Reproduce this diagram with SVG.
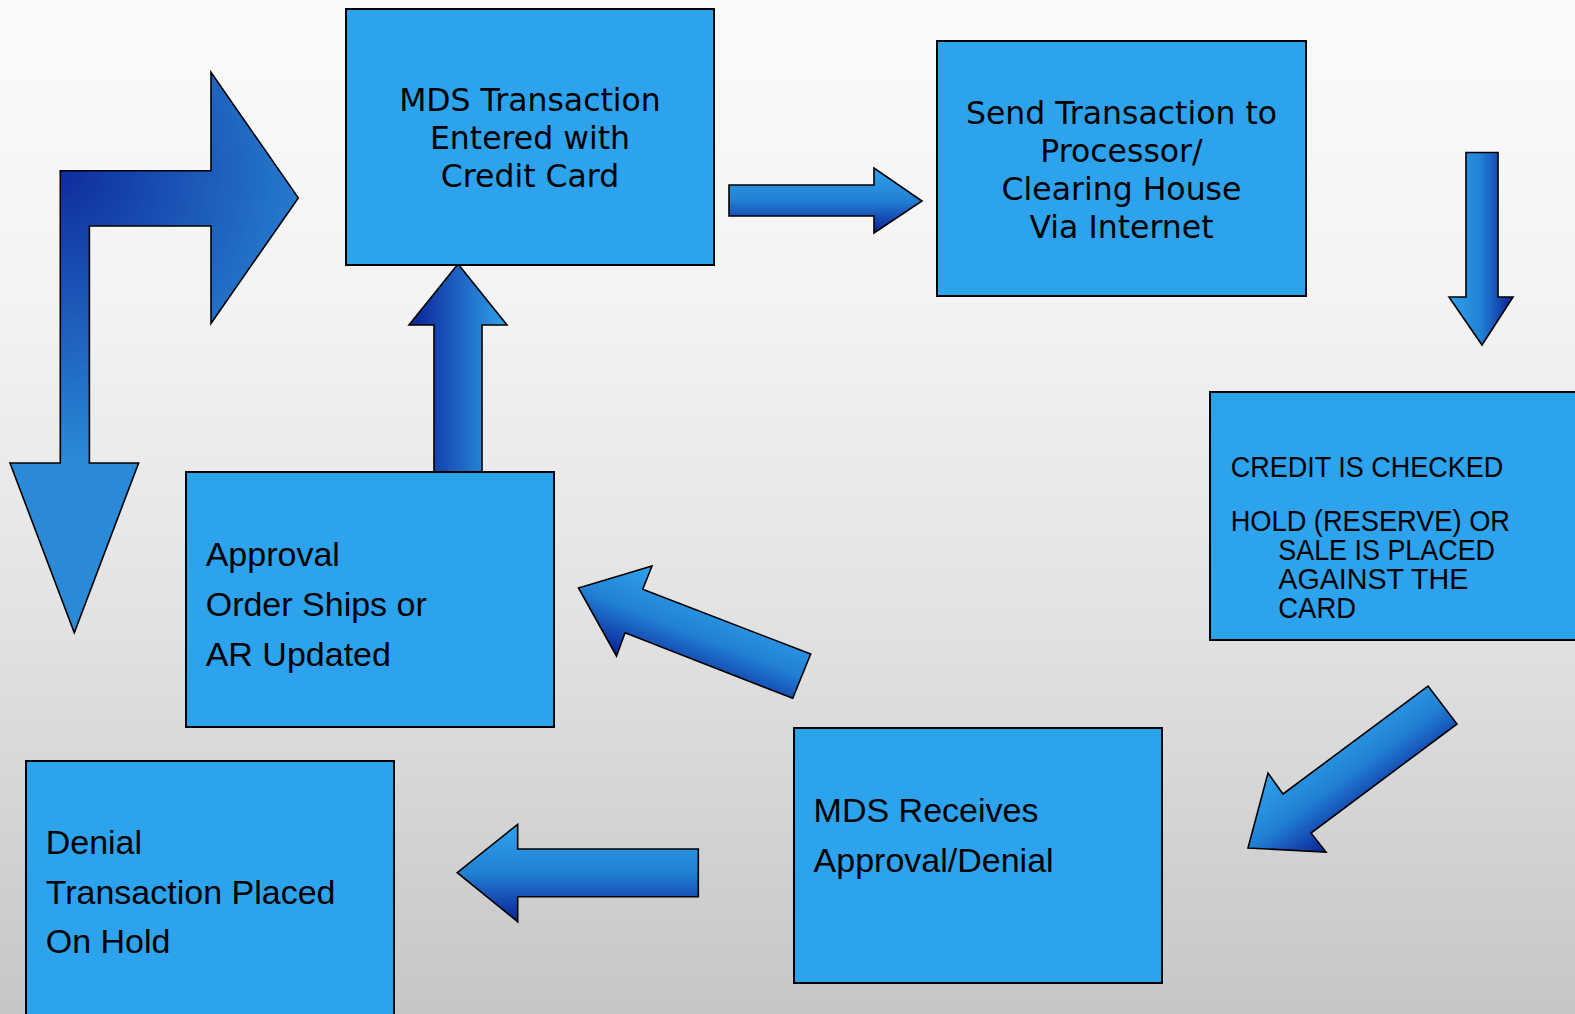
<svg xmlns="http://www.w3.org/2000/svg" width="1575" height="1014" viewBox="0 0 1575 1014">
  <defs>
    <linearGradient id="bg" x1="0" y1="0" x2="0" y2="1">
      <stop offset="0" stop-color="#fbfbfb"/>
      <stop offset="0.3" stop-color="#f3f3f3"/>
      <stop offset="0.6" stop-color="#e3e3e3"/>
      <stop offset="1" stop-color="#c6c6c6"/>
    </linearGradient>
    <radialGradient id="gBent" gradientUnits="userSpaceOnUse" cx="60" cy="171" r="290">
      <stop offset="0" stop-color="#0f2c9c"/>
      <stop offset="1" stop-color="#2a8ad8"/>
    </radialGradient>
    <linearGradient id="gUp" gradientUnits="userSpaceOnUse" x1="409" y1="0" x2="507" y2="0">
      <stop offset="0" stop-color="#0a2196"/>
      <stop offset="1" stop-color="#2fa3ec"/>
    </linearGradient>
    <linearGradient id="gRight" gradientUnits="userSpaceOnUse" x1="0" y1="168" x2="0" y2="233">
      <stop offset="0" stop-color="#2fa3ec"/>
      <stop offset="0.5" stop-color="#2180d4"/>
      <stop offset="1" stop-color="#0a2196"/>
    </linearGradient>
    <linearGradient id="gDown" gradientUnits="userSpaceOnUse" x1="1449" y1="0" x2="1513" y2="0">
      <stop offset="0" stop-color="#2fa3ec"/>
      <stop offset="0.5" stop-color="#2180d4"/>
      <stop offset="1" stop-color="#0a2196"/>
    </linearGradient>
    <linearGradient id="gDiag1" gradientUnits="userSpaceOnUse" x1="1268" y1="773" x2="1326" y2="852">
      <stop offset="0" stop-color="#2fa3ec"/>
      <stop offset="0.5" stop-color="#2180d4"/>
      <stop offset="1" stop-color="#0a2196"/>
    </linearGradient>
    <linearGradient id="gDiag2" gradientUnits="userSpaceOnUse" x1="652" y1="566" x2="617" y2="656">
      <stop offset="0" stop-color="#2fa3ec"/>
      <stop offset="0.5" stop-color="#2180d4"/>
      <stop offset="1" stop-color="#0a2196"/>
    </linearGradient>
    <linearGradient id="gLeft" gradientUnits="userSpaceOnUse" x1="0" y1="824" x2="0" y2="922">
      <stop offset="0" stop-color="#2fa3ec"/>
      <stop offset="0.5" stop-color="#2180d4"/>
      <stop offset="1" stop-color="#0a2196"/>
    </linearGradient>
    <style>
      .box { fill: #2ea3ed; stroke: #000; stroke-width: 2; }
      .arr { stroke: #000; stroke-width: 1.6; stroke-linejoin: miter; }
      .dv { font-family: "DejaVu Sans", Verdana, sans-serif; font-size: 31.5px; fill: #000; text-anchor: middle; }
      .ar { font-family: "Liberation Sans", Arial, sans-serif; font-size: 34px; fill: #000; }
      .fu { font-family: "Liberation Sans", Arial, sans-serif; font-size: 30px; fill: #000; }
    </style>
  </defs>

  <rect x="0" y="0" width="1575" height="1014" fill="url(#bg)"/>

  <g id="connectors">
    <polygon class="arr" fill="url(#gBent)" points="60.3,170.8 211,170.8 211,72.3 298.3,197.9 211,323.4 211,226 89.4,226 89.4,463 138.6,463 74.3,632.8 10,463 60.3,463"/>
    <polygon class="arr" fill="url(#gUp)" points="458,264 507,325 482,325 482,473 434,473 434,325 409,325"/>
    <polygon class="arr" fill="url(#gRight)" points="729,185 874,185 874,168 922,201 874,233 874,216 729,216"/>
    <polygon class="arr" fill="url(#gDown)" points="1466,152.5 1498,152.5 1498,297 1513,297 1482,345 1449,297 1466,297"/>
    <polygon class="arr" fill="url(#gDiag1)" points="1428,686 1457,724 1311,833 1326,852 1248,848 1268,773 1283,794"/>
    <polygon class="arr" fill="url(#gDiag2)" points="578.5,588 652,566 642.7,589.3 810.7,654 792.7,698.3 625,632.7 616.5,656"/>
    <polygon class="arr" fill="url(#gLeft)" points="457.3,872.7 517.7,824.3 517.7,849 698.3,849 698.3,896.7 517.7,896.7 517.7,921.7"/>
  </g>

  <g id="node-entered">
    <rect class="box" x="346" y="9" width="368" height="256"/>
    <text class="dv" x="530" y="110.7">MDS Transaction</text>
    <text class="dv" x="530" y="149">Entered with</text>
    <text class="dv" x="530" y="187">Credit Card</text>
  </g>

  <g id="node-send">
    <rect class="box" x="937" y="41" width="369" height="255"/>
    <text class="dv" x="1121.5" y="124">Send Transaction to</text>
    <text class="dv" x="1121.5" y="162">Processor/</text>
    <text class="dv" x="1121.5" y="200">Clearing House</text>
    <text class="dv" x="1121.5" y="238.3">Via Internet</text>
  </g>

  <g id="node-credit">
    <rect class="box" x="1210" y="392" width="368" height="248"/>
    <text class="fu" x="1230.7" y="477" textLength="272.6" lengthAdjust="spacingAndGlyphs">CREDIT IS CHECKED</text>
    <text class="fu" x="1230.7" y="531" textLength="279.3" lengthAdjust="spacingAndGlyphs">HOLD (RESERVE) OR</text>
    <text class="fu" x="1278.3" y="559.5" textLength="216.7" lengthAdjust="spacingAndGlyphs">SALE IS PLACED</text>
    <text class="fu" x="1278.3" y="589" textLength="190" lengthAdjust="spacingAndGlyphs">AGAINST THE</text>
    <text class="fu" x="1278.3" y="618.3" textLength="77.7" lengthAdjust="spacingAndGlyphs">CARD</text>
  </g>

  <g id="node-approval">
    <rect class="box" x="186" y="472" width="368" height="255"/>
    <text class="ar" x="205.7" y="565.7">Approval</text>
    <text class="ar" x="205.7" y="615.7">Order Ships or</text>
    <text class="ar" x="205.7" y="665.7">AR Updated</text>
  </g>

  <g id="node-receives">
    <rect class="box" x="794" y="728" width="368" height="255"/>
    <text class="ar" x="813.6" y="821.6">MDS Receives</text>
    <text class="ar" x="813.6" y="872">Approval/Denial</text>
  </g>

  <g id="node-denial">
    <rect class="box" x="26" y="761" width="368" height="258"/>
    <text class="ar" x="45.7" y="854">Denial</text>
    <text class="ar" x="45.7" y="904">Transaction Placed</text>
    <text class="ar" x="45.7" y="953">On Hold</text>
  </g>
</svg>
